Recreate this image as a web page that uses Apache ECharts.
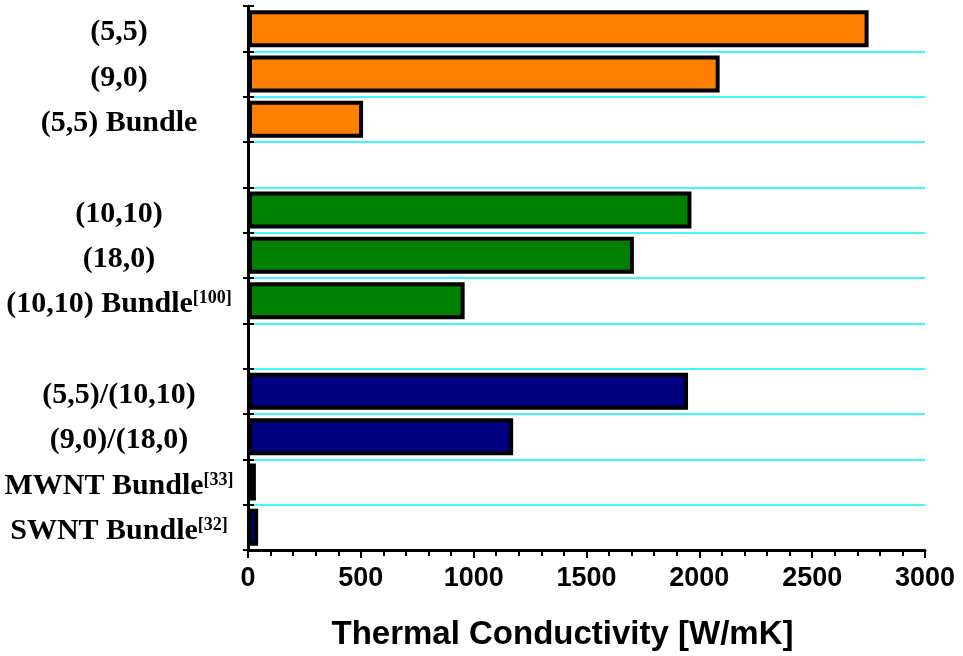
<!DOCTYPE html>
<html>
<head>
<meta charset="utf-8">
<script src="https://cdn.jsdelivr.net/npm/echarts@6/dist/echarts.min.js"></script>
<style>
  html, body { margin: 0; padding: 0; background: #fff; }
  #chart { width: 963px; height: 656px; }
</style>
</head>
<body>
<div id="chart"></div>
<script>
// Category rows, top to bottom ('' rows are spacers between groups)
const categories = ['(5,5)', '(9,0)', '(5,5) Bundle', '',
                    '(10,10)', '(18,0)', '(10,10) Bundle', '',
                    '(5,5)/(10,10)', '(9,0)/(18,0)', 'MWNT Bundle', 'SWNT Bundle'];
// Reference numbers shown as superscripts after a label
const refs = ['', '', '', '', '', '', '100', '', '', '', '33', '32'];

// Thermal conductivity [W/mK] per group
const smallTubes = [2750, 2090, 510, null, null, null, null, null, null, null, null, null];
const largeTubes = [null, null, null, null, 1965, 1710, 960, null, null, null, null, null];
const junctions  = [null, null, null, null, null, null, null, null, 1950, 1175, 35, 45];

const xTicks = { min: 0, max: 3000, interval: 500 };
const xTitle = 'Thermal Conductivity [W/mK]';

const chart = echarts.init(document.getElementById('chart'));

const cyan = '#3ef9fb';
const gridColors = categories.map(() => cyan);
gridColors.push('rgba(0,0,0,0)');
gridColors[0] = 'rgba(0,0,0,0)';

const barCommon = {
  type: 'bar',
  barWidth: 37,
  barGap: '-100%',
  itemStyle: { borderColor: '#000', borderWidth: 4 },
  emphasis: { disabled: true }
};

const serif = 'Liberation Serif, Times New Roman, serif';

chart.setOption({
  animation: false,
  backgroundColor: '#fff',
  grid: { left: 248, right: 38, top: 6, bottom: 103, containLabel: false },
  xAxis: {
    type: 'value',
    min: xTicks.min, max: xTicks.max, interval: xTicks.interval,
    axisLine: { show: true, lineStyle: { color: '#000', width: 3 } },
    axisTick: { show: true, inside: false, length: 8, lineStyle: { color: '#000', width: 2 } },
    minorTick: { show: true, splitNumber: 5, length: 6, lineStyle: { color: '#000', width: 2 } },
    splitLine: { show: false },
    axisLabel: {
      margin: 15,
      color: '#000',
      fontFamily: 'Liberation Sans, Arial',
      fontWeight: 'bold',
      fontSize: 27,
      formatter: function (v) { return String(v); }
    },
    name: xTitle,
    nameLocation: 'middle',
    nameGap: 68,
    nameTextStyle: {
      color: '#000',
      fontFamily: 'Liberation Sans, Arial',
      fontWeight: 'bold',
      fontSize: 33,
      padding: [0, 48, 0, 0]
    }
  },
  yAxis: [{
    type: 'category',
    data: categories,
    inverse: true,
    axisLine: { show: true, lineStyle: { color: '#000', width: 3 } },
    axisTick: { show: true, inside: false, length: 5, lineStyle: { color: '#000', width: 2 } },
    splitLine: { show: true, lineStyle: { color: gridColors, width: 2 } },
    axisLabel: {
      margin: 129,
      align: 'center',
      color: '#000',
      fontFamily: serif,
      fontWeight: 'bold',
      fontSize: 30,
      padding: [8, 0, 0, 0],
      formatter: function (value, idx) {
        const r = refs[idx];
        return r ? value + '{sup|[' + r + ']}' : value;
      },
      rich: {
        sup: {
          fontFamily: serif,
          fontWeight: 'bold',
          fontSize: 18,
          color: '#000',
          verticalAlign: 'top',
          padding: [0, 0, 12, 0]
        }
      }
    }
  }, {
    // inner half of the row ticks
    type: 'category',
    data: categories,
    inverse: true,
    position: 'left',
    axisLine: { show: false },
    axisTick: { show: true, inside: true, length: 6, lineStyle: { color: '#000', width: 2 } },
    axisLabel: { show: false },
    splitLine: { show: false }
  }],
  series: [
    Object.assign({ name: 'small', data: smallTubes, color: '#ff8000' }, barCommon),
    Object.assign({ name: 'large', data: largeTubes, color: '#008000' }, barCommon),
    Object.assign({ name: 'junction', data: junctions, color: '#000080' }, barCommon)
  ]
});
</script>
</body>
</html>
